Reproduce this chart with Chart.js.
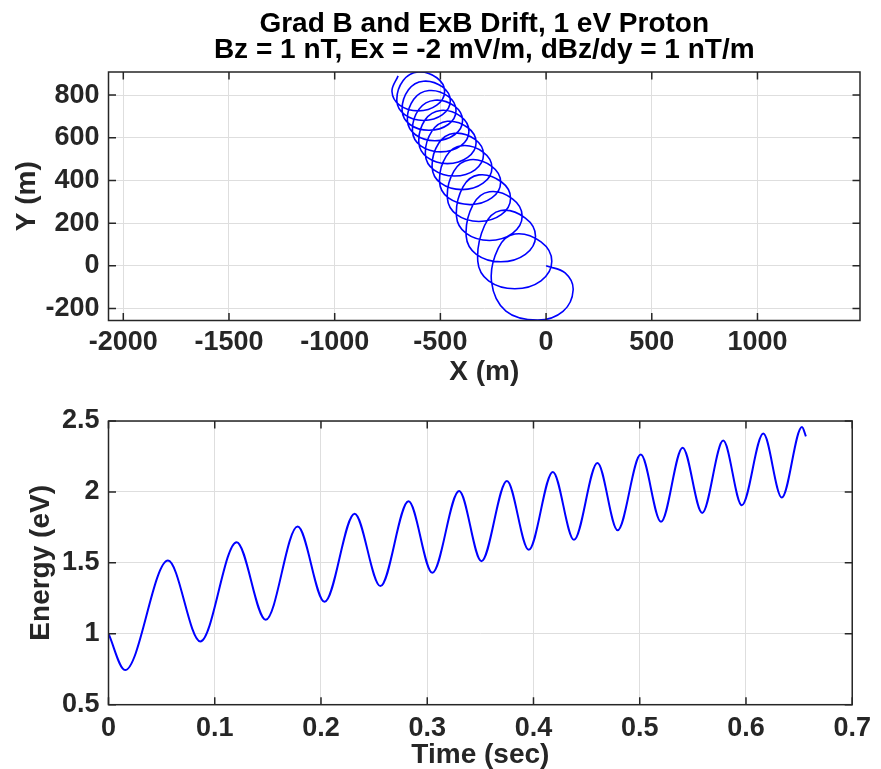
<!DOCTYPE html>
<html>
<head>
<meta charset="utf-8">
<title>Grad B and ExB Drift, 1 eV Proton</title>
<script src="https://cdn.jsdelivr.net/npm/chart.js@4.4.1/dist/chart.umd.min.js"></script>
<style>
  html, body { margin: 0; padding: 0; background: #fff; }
  #wrap { position: relative; width: 881px; height: 769px; }
  canvas { position: absolute; left: 0; }
  #orbitChart { top: 0; }
  #energyChart { top: 390px; }
</style>
</head>
<body>
<div id="wrap">
  <canvas id="orbitChart" width="881" height="390"></canvas>
  <canvas id="energyChart" width="881" height="379"></canvas>
</div>
<script>
const titleLines = [
  "Grad B and ExB Drift, 1 eV Proton",
  "Bz = 1 nT, Ex = -2 mV/m, dBz/dy = 1 nT/m"
];

// orbit, 8 points a turn:
// top, top-right, right, bottom-right, bottom, bottom-left, left, up-left (m)
const orbitX = [
  0, 90, 128, 80, -40, -190, -258, -226,
  -148, -24, 27, -24, -148, -272, -323, -291,
  -214, -98, -50, -98, -214, -330, -378, -346,
  -268, -159, -113, -159, -268, -378, -424, -393,
  -318, -212, -168, -212, -318, -423, -467, -436,
  -360, -257, -215, -257, -360, -462, -504, -473,
  -398, -298, -256, -298, -398, -498, -539, -508,
  -434, -336, -296, -336, -434, -531, -571, -540,
  -467, -371, -331, -371, -467, -562, -602, -572,
  -499, -404, -365, -404, -499, -593, -632, -601,
  -526, -433, -395, -433, -526, -618, -656, -626,
  -554, -463, -426, -463, -554, -644, -681, -651,
  -580, -490, -453, -490, -580, -669, -706, -676,
  -605, -517, -480, -517, -605, -693, -729, -700];
const orbitY = [
  0, -33, -113, -213, -254, -212, -75, 83,
  149, 112, 21, -70, -107, -70, 21, 189,
  259, 224, 139, 54, 19, 54, 139, 286,
  347, 314, 233, 152, 119, 152, 233, 370,
  426, 394, 317, 240, 208, 240, 317, 444,
  497, 466, 392, 318, 287, 318, 392, 513,
  563, 533, 460, 387, 357, 387, 460, 574,
  621, 592, 521, 450, 421, 450, 521, 631,
  677, 648, 578, 508, 479, 508, 578, 684,
  728, 700, 631, 562, 534, 562, 631, 734,
  776, 748, 681, 614, 586, 614, 681, 780,
  821, 794, 728, 662, 635, 662, 728, 825,
  865, 838, 773, 708, 681, 708, 773, 868,
  908, 881, 817, 753, 726, 753, 817, 890];
const orbitXTicks = [-2000, -1500, -1000, -500, 0, 500, 1000];
const orbitYTicks = [-200, 0, 200, 400, 600, 800];

// energy, peaks and troughs
const timeSec = [0, 0.0156, 0.056, 0.0865, 0.1206, 0.148, 0.178, 0.2034,
  0.2316, 0.2559, 0.2824, 0.3048, 0.330, 0.351, 0.375, 0.3955, 0.4182,
  0.4381, 0.4602, 0.4792, 0.501, 0.520, 0.5404, 0.5588, 0.5786, 0.5961,
  0.6163, 0.6337, 0.6527, 0.6564];
const energyEv = [1.0, 0.744, 1.516, 0.946, 1.646, 1.099, 1.756, 1.225,
  1.847, 1.336, 1.934, 1.430, 2.007, 1.512, 2.077, 1.592, 2.141,
  1.662, 2.204, 1.730, 2.263, 1.789, 2.312, 1.852, 2.362, 1.906,
  2.411, 1.960, 2.458, 2.392];
const timeTicks = [0, 0.1, 0.2, 0.3, 0.4, 0.5, 0.6, 0.7];
const energyTicks = [0.5, 1, 1.5, 2, 2.5];

const axisColor = "#262626";
const gridColor = "#dedede";
const fontFamily = "'Liberation Sans', Arial, Helvetica, sans-serif";
const tickFont = { family: fontFamily, size: 27, weight: "bold", lineHeight: 1 };
const labelFont = { family: fontFamily, size: 28, weight: "bold", lineHeight: 1 };

// box round the plot area with inward tick marks, like matlab
const framePlugin = {
  id: "frame",
  afterDraw(chart) {
    const { ctx, chartArea: a, scales } = chart;
    const len = 7.5;
    ctx.save();
    ctx.strokeStyle = axisColor;
    ctx.lineWidth = 1.5;
    ctx.beginPath();
    scales.x.ticks.forEach((t) => {
      const px = scales.x.getPixelForValue(t.value);
      ctx.moveTo(px, a.bottom);
      ctx.lineTo(px, a.bottom - len);
      ctx.moveTo(px, a.top);
      ctx.lineTo(px, a.top + len);
    });
    scales.y.ticks.forEach((t) => {
      const py = scales.y.getPixelForValue(t.value);
      ctx.moveTo(a.left, py);
      ctx.lineTo(a.left + len, py);
      ctx.moveTo(a.right, py);
      ctx.lineTo(a.right - len, py);
    });
    ctx.stroke();
    ctx.strokeRect(a.left, a.top, a.right - a.left, a.bottom - a.top);
    ctx.restore();
  },
};

const titlePlugin = {
  id: "twoLineTitle",
  afterDraw(chart) {
    const { ctx, chartArea: a } = chart;
    ctx.save();
    ctx.fillStyle = "#000";
    ctx.font = "bold 28px " + fontFamily;
    ctx.textAlign = "center";
    ctx.textBaseline = "alphabetic";
    const cx = (a.left + a.right) / 2;
    ctx.fillText(titleLines[0], cx, 32);
    ctx.fillText(titleLines[1], cx, 58);
    ctx.restore();
  },
};

function axis(opts) {
  return {
    type: "linear",
    min: opts.min,
    max: opts.max,
    afterBuildTicks: (s) => {
      s.ticks = opts.ticks.map((v) => ({ value: v }));
    },
    afterFit: opts.fit,
    grid: { color: gridColor, lineWidth: 1, drawTicks: false },
    border: { display: false },
    ticks: {
      font: tickFont,
      color: axisColor,
      padding: opts.pad,
      maxRotation: 0,
      autoSkip: false,
      callback: (v) => String(v),
    },
    title: {
      display: true,
      text: opts.title,
      font: labelFont,
      color: axisColor,
      padding: opts.titlePad,
    },
  };
}

new Chart(document.getElementById("orbitChart"), {
  type: "scatter",
  data: {
    datasets: [
      {
        data: orbitX.map((x, i) => ({ x: x, y: orbitY[i] })),
        showLine: true,
        borderColor: "#0000ff",
        borderWidth: 1.6,
        pointRadius: 0,
        tension: 0.38,
        fill: false,
      },
    ],
  },
  options: {
    responsive: false,
    animation: false,
    layout: { padding: { top: 72, right: 21, left: 0, bottom: 0 } },
    plugins: { legend: { display: false }, tooltip: { enabled: false } },
    elements: { line: { capBezierPoints: false } },
    scales: {
      x: axis({
        min: -2070, max: 1485, ticks: orbitXTicks, pad: 9,
        title: "X (m)", titlePad: { top: 0, bottom: 4 },
        fit: (s) => { s.height = 69.5; },
      }),
      y: axis({
        min: -256, max: 908, ticks: orbitYTicks, pad: 9,
        title: "Y (m)", titlePad: { top: 13, bottom: 0 },
        fit: (s) => { s.width = 108.5; },
      }),
    },
  },
  plugins: [framePlugin, titlePlugin],
});

new Chart(document.getElementById("energyChart"), {
  type: "line",
  data: {
    datasets: [
      {
        data: timeSec.map((t, i) => ({ x: t, y: energyEv[i] })),
        borderColor: "#0000ff",
        borderWidth: 2,
        pointRadius: 0,
        cubicInterpolationMode: "monotone",
        fill: false,
      },
    ],
  },
  options: {
    responsive: false,
    animation: false,
    layout: { padding: { top: 31, right: 21, left: 0, bottom: 0 } },
    plugins: { legend: { display: false }, tooltip: { enabled: false } },
    scales: {
      x: axis({
        min: 0, max: 0.7, ticks: timeTicks, pad: 10,
        title: "Time (sec)", titlePad: { top: 0, bottom: 0 },
        fit: (s) => { s.height = 64.3; },
      }),
      y: axis({
        min: 0.5, max: 2.5, ticks: energyTicks, pad: 9,
        title: "Energy (eV)", titlePad: { top: 27.5, bottom: 0 },
        fit: (s) => { s.width = 108.5; },
      }),
    },
  },
  plugins: [framePlugin],
});
</script>
</body>
</html>
